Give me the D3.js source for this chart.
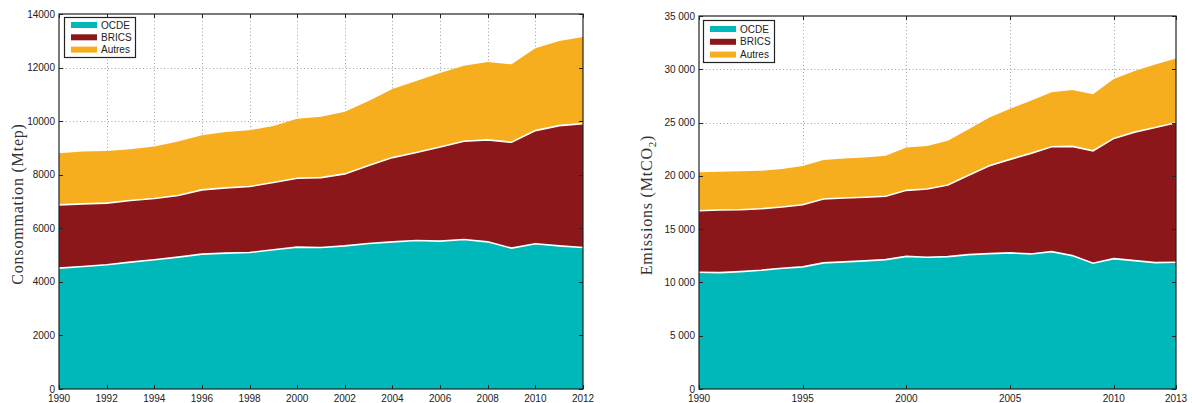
<!DOCTYPE html>
<html><head><meta charset="utf-8">
<script src="https://cdn.jsdelivr.net/npm/d3@7"></script>
<style>
html,body{margin:0;padding:0;background:#fff;}
svg{display:block;}
text{font-family:"Liberation Sans",Arial,sans-serif;}
text.serif{font-family:"Liberation Serif","DejaVu Serif",serif;}
</style></head>
<body>
<svg id="c" width="1192" height="403"></svg>
<script>
// ---- Data ----
const keys = ["OCDE","BRICS","Autres"];
const colors = ["#00B8B9","#8B171B","#F6AE1F"];

// Left chart: energy consumption (Mtep)
const yearsL = d3.range(1990, 2013);
const ocdeL   = [4513,4574,4636,4737,4823,4924,5035,5073,5096,5196,5297,5282,5345,5431,5494,5543,5520,5580,5494,5259,5420,5345,5282];
const bricsL  = [2361,2338,2302,2298,2287,2298,2399,2435,2462,2511,2573,2611,2686,2910,3145,3283,3518,3670,3805,3954,4226,4487,4625];
const autresL = [1929,1951,1951,1917,1939,2014,2040,2089,2103,2114,2220,2275,2324,2413,2562,2674,2760,2820,2909,2909,3073,3159,3234];
const xTicksL = d3.range(1990, 2013, 2);
const yTicksL = [0,2000,4000,6000,8000,10000,12000,14000];

// Right chart: CO2 emissions (MtCO2)
const yearsR = d3.range(1990, 2014);
const ocdeR   = [10960,10923,11017,11148,11335,11457,11832,11925,12019,12141,12440,12366,12422,12610,12703,12769,12675,12891,12516,11804,12235,12047,11860,11897];
const bricsR  = [5771,5874,5808,5771,5743,5836,5995,5996,5968,5940,6200,6398,6717,7438,8244,8777,9434,9837,10247,10549,11278,12057,12684,13078];
const autresR = [3598,3588,3598,3560,3560,3626,3654,3719,3747,3803,4010,4029,4150,4337,4534,4741,4927,5123,5305,5311,5584,5743,5902,6033];
const xTicksR = [1990,1995,2000,2005,2010,2013];
const yTicksR = [0,5000,10000,15000,20000,25000,30000,35000];

const svg = d3.select("#c");

function drawChart(opt){
  const {years, series, left, right, top, bottom, ymax, xTicks, yTicks, yFmt, label, legend} = opt;
  const g = svg.append("g");
  const x = d3.scaleLinear().domain([years[0], years[years.length-1]]).range([left, right]);
  const y = d3.scaleLinear().domain([0, ymax]).range([bottom, top]);
  const table = years.map((yr,i)=>({year:yr, OCDE:series[0][i], BRICS:series[1][i], Autres:series[2][i]}));
  const stacked = d3.stack().keys(keys)(table);

  // grid
  const grid = g.append("g").attr("stroke","#a0a0a0").attr("stroke-width",1).attr("stroke-dasharray","1,2.5");
  yTicks.forEach(t=>{ if(t>0 && t<ymax) grid.append("line").attr("x1",left).attr("x2",right).attr("y1",Math.round(y(t))+0.5).attr("y2",Math.round(y(t))+0.5); });
  xTicks.forEach(t=>{ if(t>years[0] && t<years[years.length-1]) grid.append("line").attr("y1",top).attr("y2",bottom).attr("x1",Math.round(x(t))+0.5).attr("x2",Math.round(x(t))+0.5); });

  // areas
  const area = d3.area().x(d=>x(d.data.year)).y0(d=>y(d[0])).y1(d=>y(d[1]));
  g.selectAll("path.a").data(stacked).join("path").attr("class","a")
    .attr("d", area).attr("fill",(d,i)=>colors[i]);
  // white separators
  const line = d3.line().x(d=>x(d.data.year)).y(d=>y(d[1]));
  stacked.slice(0,2).forEach(s=>{
    g.append("path").attr("d", line(s)).attr("fill","none").attr("stroke","#fff").attr("stroke-width",1.6);
  });

  // ticks (inward) on all sides
  const tk = g.append("g").attr("stroke","#222").attr("stroke-width",1);
  yTicks.forEach(t=>{
    const yy = Math.round(y(t))+0.5;
    tk.append("line").attr("x1",left).attr("x2",left+4).attr("y1",yy).attr("y2",yy);
    tk.append("line").attr("x1",right).attr("x2",right-4).attr("y1",yy).attr("y2",yy);
  });
  xTicks.forEach(t=>{
    const xx = Math.round(x(t))+0.5;
    tk.append("line").attr("y1",top).attr("y2",top+4).attr("x1",xx).attr("x2",xx);
    tk.append("line").attr("y1",bottom).attr("y2",bottom-4).attr("x1",xx).attr("x2",xx);
  });
  // box
  g.append("rect").attr("x",left).attr("y",top).attr("width",right-left).attr("height",bottom-top)
    .attr("fill","none").attr("stroke","#222").attr("stroke-width",1.2);

  // tick labels
  g.append("g").selectAll("text").data(yTicks).join("text")
    .attr("x", left-4).attr("y", d=>y(d)).attr("dy","0.35em")
    .attr("text-anchor","end").attr("font-size",10).attr("fill","#222").text(yFmt);
  g.append("g").selectAll("text").data(xTicks).join("text")
    .attr("x", d=>x(d)).attr("y", bottom+12.5)
    .attr("text-anchor","middle").attr("font-size",10).attr("fill","#222").text(d=>d);

  // y label
  const lbl = g.append("text").attr("class","serif")
    .attr("transform",`translate(${label.x},${label.cy}) rotate(-90)`)
    .attr("text-anchor","middle").attr("font-size",16).attr("letter-spacing",0.8).attr("fill","#333");
  label.parts.forEach(p=>{
    const ts = lbl.append("tspan").text(p.t);
    if(p.sub){ ts.attr("font-size",11).attr("dy",4); }
    if(p.after){ ts.attr("dy",-4); }
  });

  // legend
  const lg = g.append("g");
  lg.append("rect").attr("x",legend.x+0.5).attr("y",legend.y+0.5).attr("width",legend.w).attr("height",legend.h)
    .attr("fill","#fff").attr("stroke","#222").attr("stroke-width",1.2);
  keys.forEach((k,i)=>{
    const yy = legend.y + legend.r0 + i*legend.dr;
    lg.append("rect").attr("x",legend.x+7).attr("y",yy-3).attr("width",26).attr("height",6).attr("fill",colors[i]);
    lg.append("text").attr("x",legend.x+37).attr("y",yy).attr("dy","0.36em")
      .attr("font-size",10).attr("fill","#222").text(k);
  });
}

drawChart({
  years: yearsL, series:[ocdeL,bricsL,autresL],
  left:59, right:583, top:14, bottom:389, ymax:14000,
  xTicks:xTicksL, yTicks:yTicksL, yFmt:d=>String(d),
  label:{x:23, cy:204, parts:[{t:"Consommation (Mtep)"}]},
  legend:{x:64, y:17, w:71, h:40, r0:8, dr:12.3}
});
drawChart({
  years: yearsR, series:[ocdeR,bricsR,autresR],
  left:699, right:1176, top:16, bottom:389, ymax:35000,
  xTicks:xTicksR, yTicks:yTicksR, yFmt:d=>d3.format(",")(d).replace(/,/g," "),
  label:{x:652, cy:205, parts:[{t:"Emissions (MtCO"},{t:"2",sub:true},{t:")",after:true}]},
  legend:{x:703, y:20, w:71, h:42, r0:9, dr:12.8}
});
</script>
</body></html>
